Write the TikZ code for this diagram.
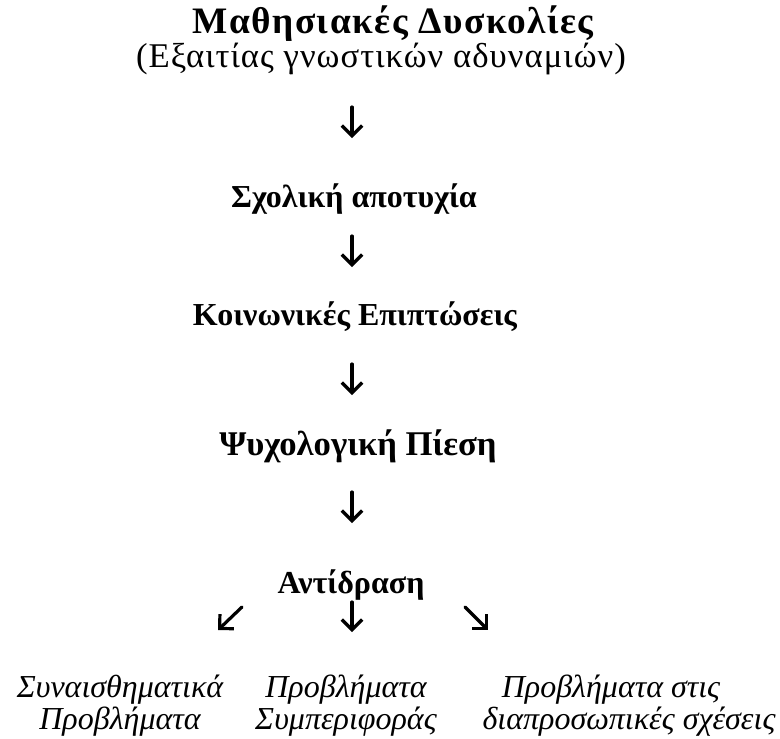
\documentclass[tikz,border=0pt]{standalone}
\usepackage{fontspec}
\setmainfont{Liberation Serif}
\usetikzlibrary{arrows.meta}
\begin{document}
\begin{tikzpicture}[x=0.375pt, y=-0.375pt, line cap=round, line join=round,
    stage/.style={anchor=base, inner sep=0pt, font=\fontsize{12}{14}\selectfont\bfseries},
    note/.style={anchor=base, inner sep=0pt, font=\fontsize{13}{15}\selectfont\addfontfeature{LetterSpace=3}},
    effect/.style={anchor=base, inner sep=0pt, font=\fontsize{12}{14}\selectfont\itshape},
    flow/.style={line width=1.2pt, -{Straight Barb[length=3.8pt,width=7.6pt]}}]
  \useasboundingbox (0,0) rectangle (780,738);

  % stages
  \node[stage, font=\fontsize{14}{16}\selectfont\bfseries\addfontfeature{LetterSpace=4}] (dyskolies) at (393,33) {Μαθησιακές Δυσκολίες};
  \node[note] (aities) at (381,67) {(Εξαιτίας γνωστικών αδυναμιών)};
  \node[stage] (apotyxia) at (354,207) {Σχολική αποτυχία};
  \node[stage] (epiptoseis) at (355,325) {Κοινωνικές Επιπτώσεις};
  \node[stage, font=\fontsize{13}{15}\selectfont\bfseries] (piesi) at (358,455) {Ψυχολογική Πίεση};
  \node[stage] (antidrasi) at (351,593) {Αντίδραση};

  % outcomes
  \node[effect] (synais1) at (120,697) {Συναισθηματικά};
  \node[effect] (synais2) at (120,729) {Προβλήματα};
  \node[effect] (symper1) at (346,697) {Προβλήματα};
  \node[effect] (symper2) at (346,729) {Συμπεριφοράς};
  \node[effect] (diapr1) at (611,697) {Προβλήματα στις};
  \node[effect] (diapr2) at (629,729) {διαπροσωπικές σχέσεις};

  % arrow ends
  \coordinate (a1) at (352,107);  \coordinate (b1) at (352,138);
  \coordinate (a2) at (352,236);  \coordinate (b2) at (352,267);
  \coordinate (a3) at (352,364);  \coordinate (b3) at (352,395);
  \coordinate (a4) at (352,492);  \coordinate (b4) at (352,523);
  \coordinate (l0) at (242,607);  \coordinate (l1) at (218,630);
  \coordinate (m0) at (352,602);  \coordinate (m1) at (352,632);
  \coordinate (r0) at (465,607);  \coordinate (r1) at (488,630);

  \draw[flow] (a1) -- (b1);
  \draw[flow] (a2) -- (b2);
  \draw[flow] (a3) -- (b3);
  \draw[flow] (a4) -- (b4);
  \draw[flow] (l0) -- (l1);
  \draw[flow] (m0) -- (m1);
  \draw[flow] (r0) -- (r1);
\end{tikzpicture}
\end{document}
